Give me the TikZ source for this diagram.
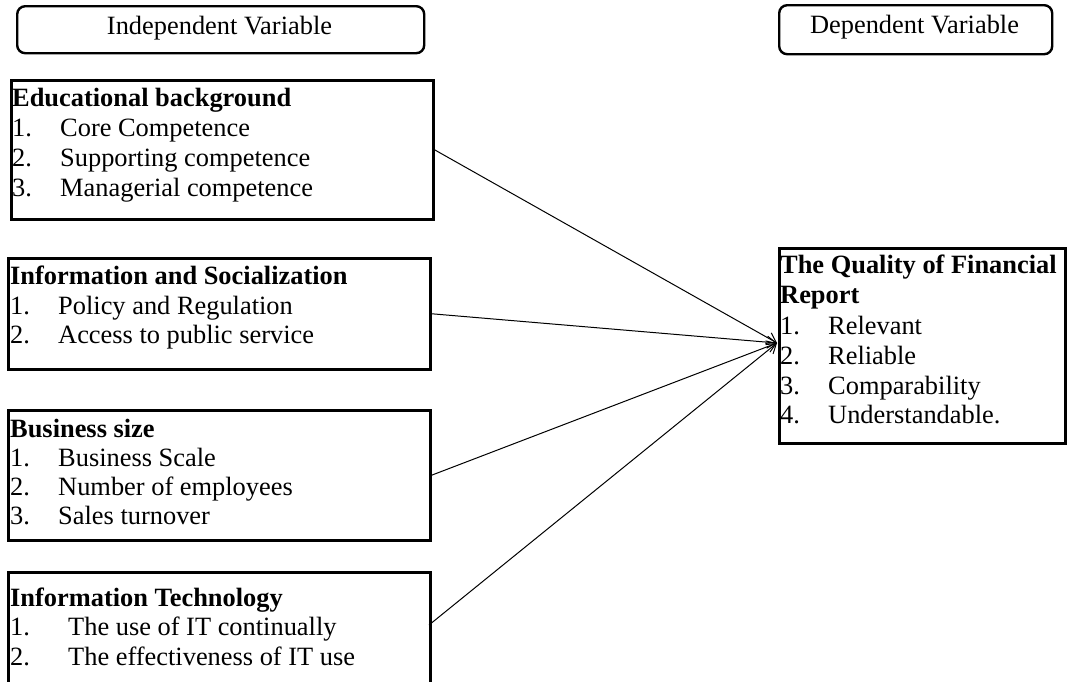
\documentclass[tikz,border=0pt]{standalone}
\usepackage{fontspec}
\setmainfont{Liberation Serif}
\usetikzlibrary{arrows.meta}
\tikzset{
  varbox/.style={draw, line width=2.4pt, rounded corners=8pt, inner sep=0pt, anchor=north west},
  indbox/.style={draw, line width=2.5pt, inner sep=0pt, anchor=north west},
  txt/.style={inner sep=0pt, anchor=base west, font=\fontsize{26.4pt}{30pt}\selectfont},
  hd/.style={txt, font=\fontsize{26.4pt}{30pt}\selectfont\bfseries},
  ctxt/.style={inner sep=0pt, anchor=base, font=\fontsize{26.4pt}{30pt}\selectfont},
  link/.style={line width=1pt, -{Straight Barb[length=9pt,width=12pt,line width=1pt]}}
}
\begin{document}
\begin{tikzpicture}[x=1pt,y=-1pt]
\useasboundingbox (0,0) rectangle (1067,681);
\clip (0,0) rectangle (1067,681);
% header boxes
\node[varbox, minimum width=407pt, minimum height=47pt] (indep) at (16,5) {};
\node[ctxt] (indepT) at (219.5,34) {Independent Variable};
\node[varbox, minimum width=273pt, minimum height=49pt] (dep) at (778,4) {};
\node[ctxt] (depT) at (914.5,33) {Dependent Variable};
% Educational background
\node[indbox, minimum width=422pt, minimum height=139pt] (edu) at (10,79) {};
\node[hd] (eduH) at (12,106) {Educational background};
\node[txt] (edu1n) at (12,136) {1.};
\node[txt] (edu1) at (60,136) {Core Competence};
\node[txt] (edu2n) at (12,166) {2.};
\node[txt] (edu2) at (60,166) {Supporting competence};
\node[txt] (edu3n) at (12,196) {3.};
\node[txt] (edu3) at (60,196) {Managerial competence};
% Information and Socialization
\node[indbox, minimum width=422pt, minimum height=111pt] (info) at (7,257) {};
\node[hd] (infoH) at (10,284) {Information and Socialization};
\node[txt] (info1n) at (10,314) {1.};
\node[txt] (info1) at (58,314) {Policy and Regulation};
\node[txt] (info2n) at (10,343) {2.};
\node[txt] (info2) at (58,343) {Access to public service};
% Business size
\node[indbox, minimum width=422pt, minimum height=130pt] (bus) at (7,409) {};
\node[hd] (busH) at (10,437) {Business size};
\node[txt] (bus1n) at (10,466) {1.};
\node[txt] (bus1) at (58,466) {Business Scale};
\node[txt] (bus2n) at (10,495) {2.};
\node[txt] (bus2) at (58,495) {Number of employees};
\node[txt] (bus3n) at (10,524) {3.};
\node[txt] (bus3) at (58,524) {Sales turnover};
% Information Technology
\node[indbox, minimum width=422pt, minimum height=140pt] (it) at (7,571) {};
\coordinate (itout) at (429,625);
\node[hd] (itH) at (10,606) {Information Technology};
\node[txt] (it1n) at (10,635) {1.};
\node[txt] (it1) at (68,635) {The use of IT continually};
\node[txt] (it2n) at (10,665) {2.};
\node[txt] (it2) at (68,665) {The effectiveness of IT use};
% Quality of Financial Report
\node[indbox, minimum width=286pt, minimum height=195pt] (qual) at (778,247) {};
\node[hd] (qualH1) at (780,273) {The Quality of Financial};
\node[hd] (qualH2) at (780,303) {Report};
\node[txt] (q1n) at (780,334) {1.};
\node[txt] (q1) at (828,334) {Relevant};
\node[txt] (q2n) at (780,364) {2.};
\node[txt] (q2) at (828,364) {Reliable};
\node[txt] (q3n) at (780,394) {3.};
\node[txt] (q3) at (828,394) {Comparability};
\node[txt] (q4n) at (780,423) {4.};
\node[txt] (q4) at (828,423) {Understandable.};
% connectors
\coordinate (tip) at (777,343);
\draw[link] (edu.east) -- (tip);
\draw[link] (info.east) -- (tip);
\draw[link] (bus.east) -- (tip);
\draw[link] (itout) -- (tip);
\end{tikzpicture}
\end{document}
